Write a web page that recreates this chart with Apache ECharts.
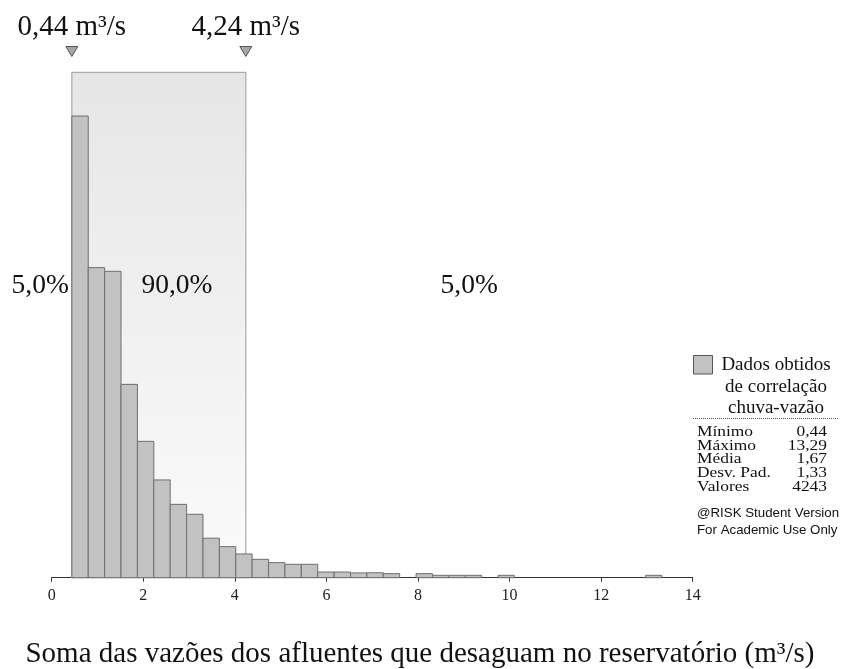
<!DOCTYPE html>
<html><head><meta charset="utf-8">
<script src="https://cdn.jsdelivr.net/npm/echarts@6/dist/echarts.min.js"></script>
<style>html,body{margin:0;padding:0;background:#fff}#c{width:844px;height:669px}</style>
</head><body><div id="c"></div>
<script>
// ---- data ----
const binStart = 0.44;
const binWidth = 0.358;
const binPercent = [25.12,16.87,16.67,10.52,7.42,5.32,3.99,3.45,2.15,1.69,1.29,1.00,0.82,0.73,0.73,0.31,0.31,0.26,0.27,0.22,0,0.22,0.13,0.13,0.13,0,0.13,0,0,0,0,0,0,0,0,0.13];
const xTicks = [0,2,4,6,8,10,12,14];
const markerValues = [0.44, 4.24];
const markerLabels = ['0,44 m³/s', '4,24 m³/s'];
const regionLabels = ['5,0%', '90,0%', '5,0%'];
const legendLines = ['Dados obtidos', 'de correlação', 'chuva-vazão'];
const statNames = ['Mínimo', 'Máximo', 'Média', 'Desv. Pad.', 'Valores'];
const statValues = ['0,44', '13,29', '1,67', '1,33', '4243'];
const watermark = ['@RISK Student Version', 'For Academic Use Only'];
const xTitle = 'Soma das vazões dos afluentes que desaguam no reservatório (m³/s)';
const yMax = 27.5;

const SERIF = '"Liberation Serif","Times New Roman",serif';
const SANS = '"Liberation Sans",Arial,sans-serif';

const barData = binPercent.map((v, i) => [binStart + i * binWidth, binStart + (i + 1) * binWidth, v]);

const chart = echarts.init(document.getElementById('c'), null, {renderer: 'canvas'});
chart.setOption({
  animation: false,
  backgroundColor: '#fff',
  grid: {left: 51.7, right: 151.3, top: 72.3, bottom: 91.3},
  xAxis: {
    type: 'value', min: xTicks[0], max: xTicks[xTicks.length - 1], interval: 2,
    splitLine: {show: false},
    axisLine: {show: true, lineStyle: {color: '#333', width: 1}},
    axisTick: {show: true, length: 4, lineStyle: {color: '#333'}},
    axisLabel: {fontFamily: SERIF, fontSize: 16, color: '#222', margin: 10}
  },
  yAxis: {type: 'value', min: 0, max: yMax, show: false},
  series: [
    {
      type: 'custom', z: 1, silent: true,
      data: [[markerValues[0], markerValues[1]]],
      renderItem(params, api) {
        const p0 = api.coord([api.value(0), yMax]);
        const p1 = api.coord([api.value(1), 0]);
        return {
          type: 'rect',
          shape: {x: p0[0], y: p0[1], width: p1[0] - p0[0], height: p1[1] - p0[1]},
          style: {
            fill: new echarts.graphic.LinearGradient(0, 0, 0, 1, [
              {offset: 0, color: '#e6e6e6'}, {offset: 1, color: '#fbfbfb'}
            ]),
            stroke: '#aaaaaa', lineWidth: 1.2
          }
        };
      }
    },
    {
      type: 'custom', z: 3, silent: true,
      data: barData,
      renderItem(params, api) {
        const v = api.value(2);
        if (!v) return null;
        const p0 = api.coord([api.value(0), v]);
        const p1 = api.coord([api.value(1), 0]);
        return {
          type: 'rect',
          shape: {x: p0[0], y: p0[1], width: p1[0] - p0[0], height: p1[1] - p0[1]},
          style: {fill: '#c2c2c2', stroke: '#6e6e6e', lineWidth: 1}
        };
      }
    }
  ]
});

// annotations positioned from the axis scale
const gx = v => chart.convertToPixel({xAxisIndex: 0}, v);
const graphics = [];
const txt = (x, y, text, font, align, scaleX) => ({
  type: 'text', x, y, z: 50, scaleX: scaleX || 1,
  style: {text, font, fill: '#111', align, verticalAlign: 'middle'}
});
markerValues.forEach((v, i) => {
  const cx = gx(v);
  graphics.push({type: 'polygon', z: 50, shape: {points: [[cx - 6, 46.5], [cx + 6, 46.5], [cx, 56.5]]},
    style: {fill: '#a6a6a6', stroke: '#555', lineWidth: 1}});
  graphics.push(txt(cx, 27, markerLabels[i], '29px ' + SERIF, 'center'));
});
const xL = gx(markerValues[0]), xR = gx(markerValues[1]), xEnd = gx(xTicks[xTicks.length - 1]);
graphics.push(txt(xL - 3, 286, regionLabels[0], '27.5px ' + SERIF, 'right'));
graphics.push(txt(177, 286, regionLabels[1], '27.5px ' + SERIF, 'center'));
graphics.push(txt((xR + xEnd) / 2, 286, regionLabels[2], '27.5px ' + SERIF, 'center'));

// legend panel
graphics.push({type: 'rect', z: 50, shape: {x: 693.5, y: 355.5, width: 19, height: 18.5}, style: {fill: '#c2c2c2', stroke: '#555', lineWidth: 1}});
legendLines.forEach((t, i) => {
  graphics.push(txt(776, 365 + i * 21.7, t, '19px ' + SERIF, 'center'));
});
graphics.push({type: 'line', z: 50, shape: {x1: 693, y1: 418.5, x2: 838, y2: 418.5}, style: {stroke: '#555', lineWidth: 1, lineDash: [1, 1]}});
statNames.forEach((t, i) => {
  const y = 432 + i * 13.7;
  graphics.push(txt(697, y, t, '15px ' + SERIF, 'left', 1.16));
  graphics.push(txt(827, y, statValues[i], '15px ' + SERIF, 'right', 1.16));
});
watermark.forEach((t, i) => {
  graphics.push(txt(697, 513.5 + i * 16.7, t, '13.3px ' + SANS, 'left'));
});
// axis title
graphics.push(txt(420, 654, xTitle, '29px ' + SERIF, 'center'));

chart.setOption({graphic: graphics});
</script>
</body></html>
